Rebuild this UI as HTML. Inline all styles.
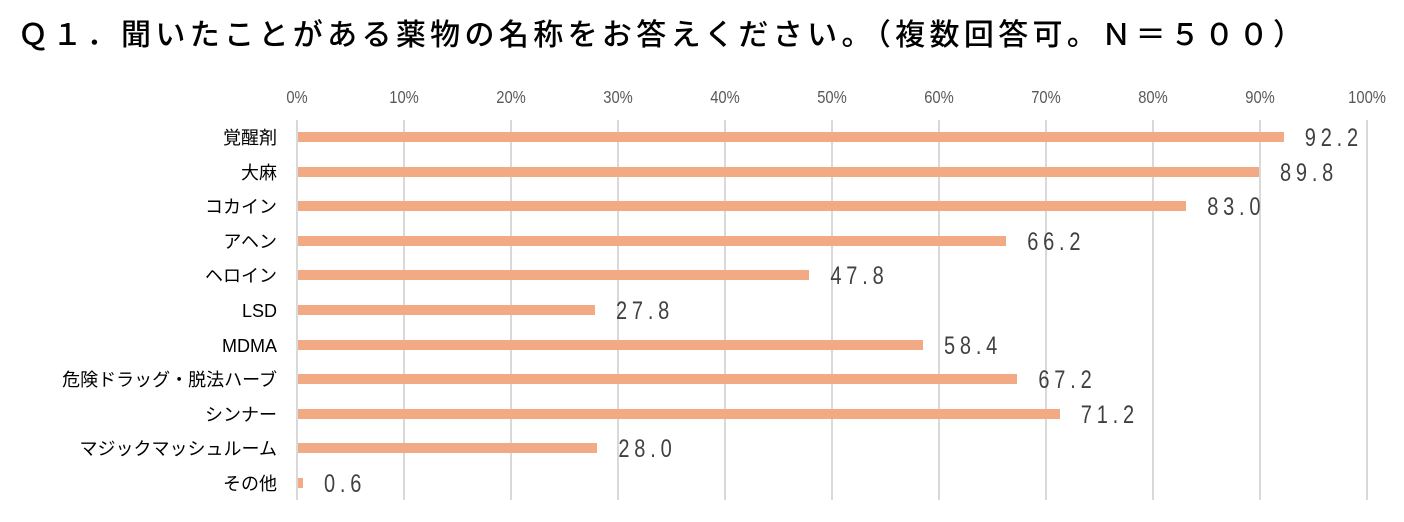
<!DOCTYPE html>
<html><head><meta charset="utf-8"><style>
html,body{margin:0;padding:0;background:#fff;}
svg{display:block}
</style></head><body>
<svg width="1404" height="522" xmlns="http://www.w3.org/2000/svg">
<text x="18" y="45" font-family="'Noto Sans CJK JP',sans-serif" font-weight="500" font-size="30" fill="#000" textLength="1285" lengthAdjust="spacing">Ｑ１．聞いたことがある薬物の名称をお答えください。（複数回答可。Ｎ＝５００）</text>
<g stroke="#d9d9d9" stroke-width="2">
<line x1="297" y1="120" x2="297" y2="500"/><line x1="404" y1="120" x2="404" y2="500"/><line x1="511" y1="120" x2="511" y2="500"/><line x1="618" y1="120" x2="618" y2="500"/><line x1="725" y1="120" x2="725" y2="500"/><line x1="832" y1="120" x2="832" y2="500"/><line x1="939" y1="120" x2="939" y2="500"/><line x1="1046" y1="120" x2="1046" y2="500"/><line x1="1153" y1="120" x2="1153" y2="500"/><line x1="1260" y1="120" x2="1260" y2="500"/><line x1="1367" y1="120" x2="1367" y2="500"/>
</g>
<g font-family="'Liberation Sans',sans-serif" font-size="18" fill="#595959" text-anchor="middle" transform="scale(0.82,1)">
<text x="362.2" y="103">0%</text><text x="492.7" y="103">10%</text><text x="623.2" y="103">20%</text><text x="753.7" y="103">30%</text><text x="884.1" y="103">40%</text><text x="1014.6" y="103">50%</text><text x="1145.1" y="103">60%</text><text x="1275.6" y="103">70%</text><text x="1406.1" y="103">80%</text><text x="1536.6" y="103">90%</text><text x="1667.1" y="103">100%</text>
</g>
<g fill="#f2aa84">
<rect x="298" y="132" width="986" height="10"/>
<rect x="298" y="167" width="961" height="10"/>
<rect x="298" y="201" width="888" height="10"/>
<rect x="298" y="236" width="708" height="10"/>
<rect x="298" y="270" width="511" height="10"/>
<rect x="298" y="305" width="297" height="10"/>
<rect x="298" y="340" width="625" height="10"/>
<rect x="298" y="374" width="719" height="10"/>
<rect x="298" y="409" width="762" height="10"/>
<rect x="298" y="443" width="299" height="10"/>
<rect x="298" y="478" width="5" height="10"/>
</g>
<g font-family="'Liberation Sans','Noto Sans CJK JP',sans-serif" font-size="18" font-weight="normal" fill="#000" text-anchor="end">
<text x="277" y="144">覚醒剤</text><text x="277" y="179">大麻</text><text x="277" y="213">コカイン</text><text x="277" y="248">アヘン</text><text x="277" y="282">ヘロイン</text><text x="277" y="317">LSD</text><text x="277" y="352">MDMA</text><text x="277" y="386">危険ドラッグ・脱法ハーブ</text><text x="277" y="421">シンナー</text><text x="277" y="455">マジックマッシュルーム</text><text x="277" y="490">その他</text>
</g>
<g font-family="'Liberation Sans',sans-serif" font-size="25" fill="#404040" letter-spacing="6" transform="scale(0.8,1)">
<text x="1631" y="146">92.2</text><text x="1600" y="181">89.8</text><text x="1509" y="215">83.0</text><text x="1284" y="250">66.2</text><text x="1038" y="284">47.8</text><text x="770" y="319">27.8</text><text x="1180" y="354">58.4</text><text x="1298" y="388">67.2</text><text x="1351" y="423">71.2</text><text x="773" y="457">28.0</text><text x="405" y="492">0.6</text>
</g>
</svg>
</body></html>
